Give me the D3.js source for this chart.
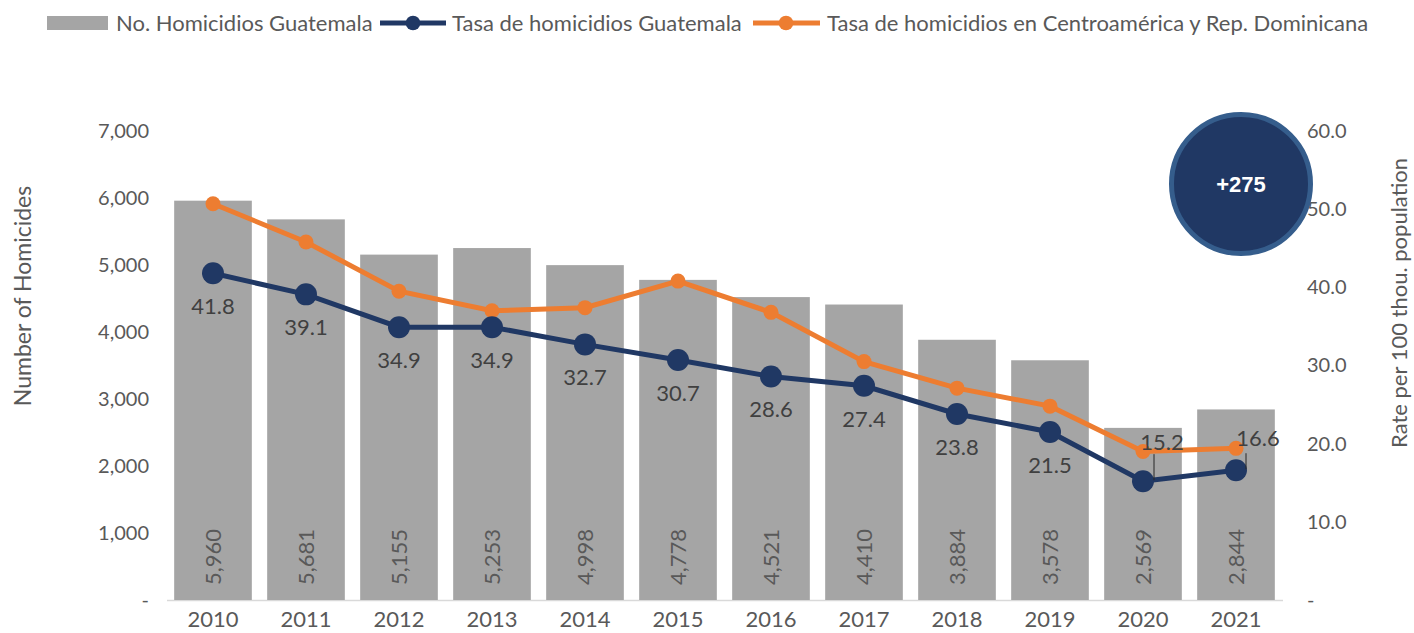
<!DOCTYPE html>
<html>
<meta charset="utf-8">
<head>
    <script src="https://cdnjs.cloudflare.com/ajax/libs/d3/7.8.5/d3.min.js"></script>
    <style>
        body { margin: 0; background: #fff; }
        text { font-family: Lato, "Open Sans", sans-serif; fill: #595959; }
    </style>
</head>
<body>
<script>
    const years = ["2010","2011","2012","2013","2014","2015","2016","2017","2018","2019","2020","2021"];
    const homicides = [5960, 5681, 5155, 5253, 4998, 4778, 4521, 4410, 3884, 3578, 2569, 2844];
    const rateGuatemala = [41.8, 39.1, 34.9, 34.9, 32.7, 30.7, 28.6, 27.4, 23.8, 21.5, 15.2, 16.6];
    const rateRegion = [50.7, 45.8, 39.5, 37.0, 37.4, 40.8, 36.8, 30.5, 27.1, 24.8, 19.0, 19.4];
    const leftTicks = [0, 1000, 2000, 3000, 4000, 5000, 6000, 7000];
    const rightTicks = [0, 10, 20, 30, 40, 50, 60];

    const width = 1414, height = 633;
    const gray = "#a5a5a5", navy = "#203864", orange = "#ed7d31";

    const svg = d3.select("body").append("svg")
        .attr("width", width)
        .attr("height", height);

    const x = d3.scaleBand().domain(years).range([166.5, 1282.5])
        .paddingInner(0.165).paddingOuter(0.0825);
    const yLeft = d3.scaleLinear().domain([0, 7000]).range([600, 131]);
    const yRight = d3.scaleLinear().domain([0, 60]).range([600, 131]);
    const cx = d => x(d) + x.bandwidth() / 2;

    // axes
    const leftAxis = d3.axisLeft(yLeft).tickValues(leftTicks).tickSize(0).tickPadding(0)
        .tickFormat(d => d === 0 ? "-" : d3.format(",")(d));
    svg.append("g").attr("transform", "translate(149,0)").call(leftAxis)
        .call(g => g.select(".domain").remove())
        .selectAll("text").attr("font-size", 20).attr("fill", "#595959");

    const rightAxis = d3.axisRight(yRight).tickValues(rightTicks).tickSize(0).tickPadding(0)
        .tickFormat(d => d === 0 ? "-" : d3.format(".1f")(d));
    svg.append("g").attr("transform", "translate(1307,0)").call(rightAxis)
        .call(g => g.select(".domain").remove())
        .selectAll("text").attr("font-size", 20).attr("fill", "#595959");

    const xAxis = d3.axisBottom(x).tickSize(0).tickPadding(11);
    svg.append("g").attr("transform", "translate(0,600)").call(xAxis)
        .call(g => g.select(".domain").attr("stroke", "#d9d9d9").attr("stroke-width", 1.5))
        .selectAll("text").attr("font-size", 22).attr("fill", "#595959");

    // axis titles
    svg.append("text")
        .attr("transform", "translate(31,296) rotate(-90)")
        .attr("text-anchor", "middle")
        .attr("font-size", 23)
        .text("Number of Homicides");
    svg.append("text")
        .attr("transform", "translate(1407,303) rotate(-90)")
        .attr("text-anchor", "middle")
        .attr("font-size", 22)
        .text("Rate per 100 thou. population");

    // bars
    svg.append("g").selectAll("rect")
        .data(homicides)
        .enter()
        .append("rect")
        .attr("x", (d, i) => x(years[i]))
        .attr("y", d => yLeft(d))
        .attr("width", x.bandwidth())
        .attr("height", d => 600 - yLeft(d))
        .attr("fill", gray);

    svg.append("g").selectAll("text")
        .data(homicides)
        .enter()
        .append("text")
        .attr("transform", (d, i) => `translate(${cx(years[i]) + 8},557) rotate(-90)`)
        .attr("text-anchor", "middle")
        .attr("font-size", 22)
        .text(d => d3.format(",")(d));

    // lines
    const line = yScale => d3.line().x((d, i) => cx(years[i])).y(d => yScale(d));

    svg.append("path")
        .datum(rateRegion)
        .attr("d", line(yRight))
        .attr("fill", "none")
        .attr("stroke", orange)
        .attr("stroke-width", 5);
    svg.append("g").selectAll("circle")
        .data(rateRegion)
        .enter()
        .append("circle")
        .attr("cx", (d, i) => cx(years[i]))
        .attr("cy", d => yRight(d))
        .attr("r", 7.5)
        .attr("fill", orange);

    svg.append("path")
        .datum(rateGuatemala)
        .attr("d", line(yRight))
        .attr("fill", "none")
        .attr("stroke", navy)
        .attr("stroke-width", 5);
    svg.append("g").selectAll("circle")
        .data(rateGuatemala)
        .enter()
        .append("circle")
        .attr("cx", (d, i) => cx(years[i]))
        .attr("cy", d => yRight(d))
        .attr("r", 11)
        .attr("fill", navy);

    // rate labels; the last two sit above the point with a leader line
    // [label dx, label baseline dy, leader dx, leader top dy]
    const lifted = { "2020": [19, -31, 11, -27], "2021": [22, -24, 10, -17] };
    const rateLabels = svg.append("g");
    rateGuatemala.forEach((d, i) => {
        const px = cx(years[i]), py = yRight(d);
        const o = lifted[years[i]];
        if (o) {
            rateLabels.append("line")
                .attr("x1", px + o[2]).attr("x2", px + o[2])
                .attr("y1", py + o[3]).attr("y2", py - 1)
                .attr("stroke", "#262626").attr("stroke-width", 1);
            rateLabels.append("text")
                .attr("x", px + o[0]).attr("y", py + o[1])
                .attr("text-anchor", "middle").attr("font-size", 22)
                .style("fill", "#404040")
                .text(d.toFixed(1));
        } else {
            rateLabels.append("text")
                .attr("x", px).attr("y", py + 41)
                .attr("text-anchor", "middle").attr("font-size", 22)
                .style("fill", "#404040")
                .text(d.toFixed(1));
        }
    });

    // badge
    svg.append("circle")
        .attr("cx", 1241).attr("cy", 184).attr("r", 69.5)
        .attr("fill", navy)
        .attr("stroke", "#355d8c")
        .attr("stroke-width", 5);
    svg.append("text")
        .attr("x", 1241).attr("y", 192)
        .attr("text-anchor", "middle")
        .attr("font-size", 22)
        .attr("font-weight", "bold")
        .style("fill", "#fff")
        .style("font-family", "Arial, 'Liberation Sans', sans-serif")
        .text("+275");

    // legend
    const legend = svg.append("g");
    legend.append("rect").attr("x", 47).attr("y", 16).attr("width", 61).attr("height", 14).attr("fill", gray);
    legend.append("text").attr("x", 116).attr("y", 31).attr("font-size", 22).text("No. Homicidios Guatemala");
    legend.append("line").attr("x1", 380).attr("x2", 446).attr("y1", 23).attr("y2", 23)
        .attr("stroke", navy).attr("stroke-width", 5);
    legend.append("circle").attr("cx", 413).attr("cy", 23).attr("r", 7.3).attr("fill", navy);
    legend.append("text").attr("x", 452).attr("y", 31).attr("font-size", 22).text("Tasa de homicidios Guatemala");
    legend.append("line").attr("x1", 753).attr("x2", 820).attr("y1", 23).attr("y2", 23)
        .attr("stroke", orange).attr("stroke-width", 5);
    legend.append("circle").attr("cx", 786).attr("cy", 23).attr("r", 7.3).attr("fill", orange);
    legend.append("text").attr("x", 827).attr("y", 31).attr("font-size", 22).text("Tasa de homicidios en Centroamérica y Rep. Dominicana");
</script>
</body>
</html>
